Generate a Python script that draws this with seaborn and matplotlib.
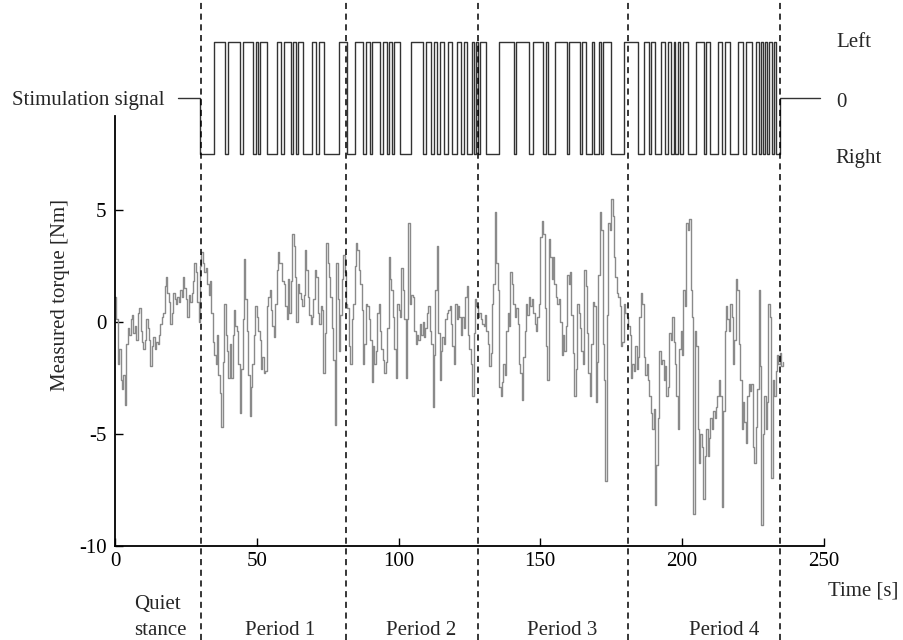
import numpy as np
import pandas as pd
import matplotlib
matplotlib.use('Agg')
import matplotlib.pyplot as plt
import seaborn as sns

sample_step = 0.5
torque_nm = [
    1.1, 0.1, -1.9, -1.2, -2.6, -3.0, -2.4, -3.7, -1.0, -0.3, -0.6, 0.1, 0.3, -0.5, -0.2, -0.8, 0.4, 0.6, -0.4, -0.9,
    -1.2, -0.8, 0.1, -0.3, -0.8, -2.0, -1.1, -0.7, -1.2, -0.9, -1.0, -0.6, -0.1, 0.2, 0.4, 1.6, 2.0, 1.3, 0.9, -0.1,
    0.4, 1.3, 1.0, 0.8, 1.1, 0.9, 1.4, 1.1, 2.0, 1.5, 1.0, 0.2, 1.2, 0.9, 1.3, 1.8, 2.6, 2.2, 0.9, 0.0,
    2.5, 3.1, 2.6, 2.2, 2.4, 1.7, 1.2, 1.8, 0.4, -0.9, -1.5, -1.9, -0.6, -2.4, -3.2, -4.7, -1.8, 0.8, -0.6, -1.3,
    -2.5, -1.0, -2.5, -0.6, 0.5, -0.2, -0.4, -1.9, -4.1, -2.1, 0.1, 2.8, 1.0, -0.4, -2.4, -4.2, -2.9, -1.9, -0.6, 0.7,
    0.2, -0.4, -0.8, -2.1, -1.6, -2.3, -2.2, 0.7, 1.1, 1.4, 0.5, -0.2, -0.7, 0.8, 2.3, 3.1, 2.6, 2.6, 1.8, 1.7,
    0.7, 0.1, 1.9, 0.4, 1.8, 3.9, 3.4, 2.0, 0.0, 1.7, 1.3, 1.0, 0.7, 1.2, 3.2, 2.3, 1.1, 0.3, -0.1, 0.2,
    1.0, 2.3, 2.0, 0.4, -0.1, 0.7, 0.5, -2.3, -0.5, 3.5, 2.6, 2.0, 1.1, -0.3, -1.7, -4.6, 2.6, 1.0, -1.3, 0.3,
    1.9, 3.0, 2.2, 0.8, 0.6, -1.1, -1.9, 0.1, 0.8, 2.5, 3.5, 3.2, 2.3, 1.7, 0.5, -1.9, -1.0, 0.8, 0.7, 0.1,
    -0.8, -2.7, -1.1, -1.9, -1.3, 0.4, 0.8, -0.4, -1.2, -1.7, -2.3, -1.8, -0.3, 2.9, 1.9, 1.4, 0.2, -1.2, -2.5, 0.8,
    0.5, 0.2, 2.4, 1.4, 0.1, -2.5, 0.1, 4.4, 0.8, 1.2, 1.1, -0.4, -1.0, -0.6, -0.8, -0.1, -0.6, 0.0, -0.7, -0.3,
    0.4, 0.7, -0.4, -1.0, -3.8, -1.5, 1.4, 3.4, -0.5, -2.6, -1.3, -0.7, -1.0, 0.1, 0.4, 0.5, 0.7, -0.1, -1.1, -1.9,
    0.8, 0.1, 0.7, 0.2, -0.6, 0.2, -0.3, 1.1, 1.6, -0.6, -1.2, -1.9, -3.3, -0.5, 1.0, 0.7, 0.2, 0.4, 0.1, -0.1,
    -0.2, 0.3, -0.4, -1.0, -2.0, -1.4, 0.8, 1.7, 4.9, 2.6, 1.4, -2.9, -3.3, -2.7, -1.9, -2.4, -0.4, 0.4, -0.2, 2.2,
    1.7, 0.8, 0.2, 0.6, -0.1, -1.9, -2.3, -3.5, -1.6, -0.4, 0.8, 0.3, 1.1, 0.7, 1.0, 0.4, -0.1, -0.4, 0.2, 0.8,
    3.8, 4.5, 3.9, 0.6, -1.1, -2.6, 3.7, 2.9, 1.9, 2.9, 1.7, 1.1, 0.8, 1.0, 0.0, -1.5, -0.6, -1.3, -0.2, 2.1,
    1.7, 2.2, 0.3, -1.4, -3.3, -2.1, 0.8, 0.4, -0.3, -1.3, -1.9, 2.3, 1.6, -0.5, -2.3, -3.3, -1.0, 0.9, 0.7, -3.6,
    -1.8, 2.1, 4.9, 4.1, -1.0, -2.6, -7.1, 0.3, 4.4, 4.1, 5.5, 4.7, 2.9, 2.0, 1.3, 1.1, 0.7, -1.1, -0.9, 0.8,
    0.4, 0.2, -0.2, -0.6, -2.5, -1.9, -2.2, -1.1, -2.1, -1.6, 0.2, 1.3, 0.8, -1.6, -2.4, -1.9, -2.6, -3.3, -4.1, -4.8,
    -3.9, -8.2, -6.4, -4.3, -1.3, -1.9, -1.7, -2.6, -2.0, -3.3, -2.9, -0.5, -0.8, 0.2, -0.9, -1.9, -3.3, -4.8, -1.2, -0.4,
    -1.5, 1.4, 0.7, 4.4, 4.1, 4.6, 1.4, 0.2, -8.6, -0.4, -1.1, -4.8, -6.3, -5.0, -5.6, -7.9, -6.0, -4.8, -6.0, -5.2,
    -4.3, -4.8, -4.0, -4.3, -3.8, -3.3, -2.6, -3.3, -8.3, -4.0, -0.4, 0.7, 0.1, -0.4, 0.8, 0.2, -1.9, -0.8, 1.9, 1.4,
    -1.0, -2.6, -4.8, -3.6, -4.5, -5.4, -3.3, -2.8, -3.1, -2.8, -5.6, -6.3, -4.7, -3.0, 1.4, -2.0, -9.1, -5.0, -3.3, -4.8,
    -3.6, 0.8, 0.2, -7.0, -2.6, -3.3, -2.2, -1.5, -1.9, -1.4, -2.0, -1.8,
]

# stimulation signal: switch times [s] and level after each switch (1 = left, -1 = right, 0 = off)
stim_time = [
    22.3, 30.1, 34.8, 38.7, 40.0, 44.1, 45.3, 48.8, 49.6, 50.3, 51.1, 53.5, 57.0, 58.5, 59.5,
    62.1, 62.9, 63.7, 64.6, 66.4, 69.6, 70.8, 71.9, 73.8, 78.9, 81.8, 84.7, 87.4, 88.4, 90.0,
    90.7, 93.6, 94.4, 95.9, 96.7, 97.8, 98.5, 100.6, 104.4, 108.6, 109.8, 111.5, 112.4, 113.5, 114.5,
    115.9, 117.4, 118.7, 120.7, 121.9, 123.1, 124.2, 126.0, 126.7, 127.4, 128.1, 128.8, 130.7, 135.6, 140.8,
    141.6, 146.0, 147.4, 151.0, 151.9, 152.7, 155.2, 159.6, 160.2, 164.0, 164.8, 166.1, 168.4, 169.0, 170.8,
    171.6, 172.3, 174.9, 179.6, 184.3, 186.6, 188.4, 189.2, 190.4, 192.5, 193.9, 194.9, 196.0, 197.0, 197.7,
    198.5, 199.3, 200.3, 202.0, 205.0, 207.6, 208.5, 209.7, 212.6, 214.2, 215.3, 217.0, 219.7, 221.4, 222.4,
    224.7, 226.1, 227.1, 227.8, 228.5, 229.2, 229.9, 230.8, 231.8, 232.5, 233.2, 234.5, 248.7,
]
stim_level = [0] + [-1, 1] * 57 + [-1] + [0, 0]

period_edges = [30.3, 81.5, 128.0, 181.0, 234.5]
period_labels = ['Period 1', 'Period 2', 'Period 3', 'Period 4']
period_centres = [58.2, 108.0, 157.6, 215.0]
x_ticks = [0, 50, 100, 150, 200, 250]
y_ticks = [-10, -5, 0, 5]

sns.set_theme(style='ticks')
plt.rcParams['font.family'] = ['Liberation Serif', 'DejaVu Serif']
plt.rcParams['axes.unicode_minus'] = False
fs = 15

fig = plt.figure(figsize=(9.04, 6.4), dpi=100)
ax = fig.add_axes([0, 0, 1, 1])

df = pd.DataFrame({'t': np.arange(len(torque_nm)) * sample_step, 'torque': torque_nm})
sns.lineplot(data=df, x='t', y='torque', ax=ax, color='#8a8a8a', lw=1.0,
             drawstyle='steps-post', estimator=None)

# stimulation trace drawn above the torque, centred on 10 with +-2.5 swing
stim = pd.DataFrame({'t': stim_time, 'lvl': [10 + 2.5 * v for v in stim_level]})
sns.lineplot(data=stim, x='t', y='lvl', ax=ax, color='#333333', lw=1.0,
             drawstyle='steps-post', estimator=None)

for x in period_edges:
    ax.axvline(x, color='black', lw=1.1, ls=(0, (4, 3)), zorder=3)

ax.set_xlim(-40.56, 278.3)
ax.set_ylim(-14.22, 14.37)
ax.set_xlabel('')
ax.set_ylabel('')
for s in ['top', 'right']:
    ax.spines[s].set_visible(False)
ax.spines['left'].set_position(('data', 0))
ax.spines['left'].set_bounds(-10, 9.19)
ax.spines['bottom'].set_position(('data', -10))
ax.spines['bottom'].set_bounds(0, 250)
for s in ['left', 'bottom']:
    ax.spines[s].set_linewidth(1.3)
    ax.spines[s].set_color('black')
ax.set_xticks(x_ticks)
ax.set_yticks(y_ticks)
ax.tick_params(direction='in', length=6, width=1, labelsize=fs, colors='black')
ax.tick_params(axis='x', pad=5)
ax.tick_params(axis='y', pad=6)

ax.text(-19.3, 1.19, 'Measured torque [Nm]', rotation=90, ha='center', va='center', fontsize=fs)
ax.text(251.6, -12.21, 'Time [s]', ha='left', va='baseline', fontsize=fs)
ax.text(17.3, 9.67, 'Stimulation signal', ha='right', va='baseline', fontsize=fs)
ax.text(254.5, 12.27, 'Left', ha='left', va='baseline', fontsize=fs)
ax.text(254.5, 9.6, '0', ha='left', va='baseline', fontsize=fs)
ax.text(254.2, 7.08, 'Right', ha='left', va='baseline', fontsize=fs)

ax.text(6.7, -12.82, 'Quiet', ha='left', va='baseline', fontsize=fs)
ax.text(6.7, -13.98, 'stance', ha='left', va='baseline', fontsize=fs)
for lab, c in zip(period_labels, period_centres):
    ax.text(c, -13.98, lab, ha='center', va='baseline', fontsize=fs)

fig.savefig('out.png', dpi=100)
